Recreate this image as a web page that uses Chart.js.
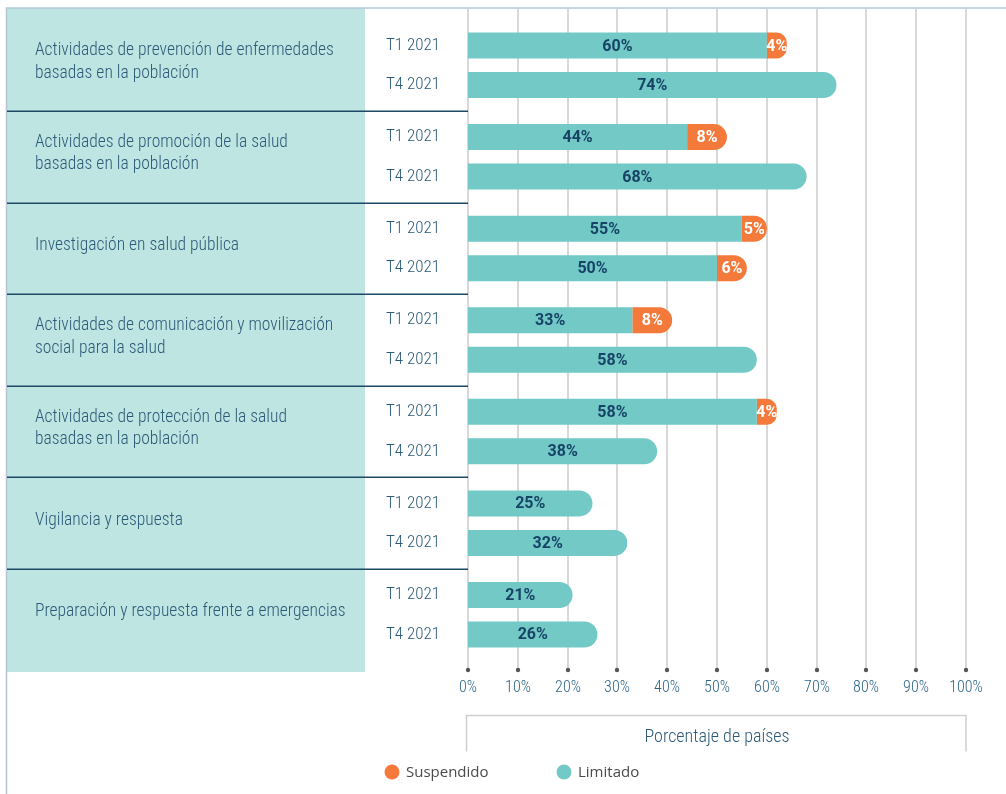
<!DOCTYPE html>
<html lang="es">
<head>
<meta charset="utf-8">
<title>Servicios de salud pública</title>
<script src="https://cdn.jsdelivr.net/npm/chart.js@4.4.0/dist/chart.umd.min.js"></script>
<style>
  html, body { margin: 0; padding: 0; background: #fff; }
  canvas { display: block; }
</style>
</head>
<body>
<canvas id="grafico" width="1006" height="794"></canvas>
<script>
// Datos
const categorias = [
  ['Actividades de prevención de enfermedades', 'basadas en la población'],
  ['Actividades de promoción de la salud', 'basadas en la población'],
  ['Investigación en salud pública'],
  ['Actividades de comunicación y movilización', 'social para la salud'],
  ['Actividades de protección de la salud', 'basadas en la población'],
  ['Vigilancia y respuesta'],
  ['Preparación y respuesta frente a emergencias']
];
const periodos = ['T1 2021', 'T4 2021'];
const limitadoT1 = [60, 44, 55, 33, 58, 25, 21];
const suspendidoT1 = [4, 8, 5, 8, 4, 0, 0];
const limitadoT4 = [74, 68, 50, 58, 38, 32, 26];
const suspendidoT4 = [0, 0, 6, 0, 0, 0, 0];
const ticksX = [0, 10, 20, 30, 40, 50, 60, 70, 80, 90, 100];
const tituloX = 'Porcentaje de países';
const series = ['Suspendido', 'Limitado'];

// Estilos
const TEAL = '#72c9c6';
const NARANJA = '#f47a3b';
const PANEL = '#bfe5e2';
const AZUL_TEXTO = '#2b5a78';
const AZUL_ETIQUETA = '#174466';
const AZUL_LINEA = '#1d4866';
const GRIS_GRILLA = '#d8d8d8';
const CONDENSADA = '"Roboto Condensed", "Liberation Sans Narrow", sans-serif';

// radio sólo en el último tramo de cada barra apilada
function radioLimitado(suspendido) {
  return ctx => (suspendido[ctx.dataIndex] > 0 ? 0 : 13);
}

const decorado = {
  id: 'decorado',
  beforeDatasetsDraw(chart) {
    const { ctx, scales: { x, y } } = chart;
    const paso = y.getPixelForValue(1) - y.getPixelForValue(0);
    const arriba = y.top - 11.5;
    const abajo = y.bottom + 11.5;
    ctx.save();

    // panel de categorías
    ctx.fillStyle = PANEL;
    ctx.fillRect(7, arriba, 358, abajo - arriba);

    // marco exterior
    ctx.strokeStyle = '#b3c6d7';
    ctx.lineWidth = 1.5;
    ctx.beginPath();
    ctx.moveTo(6.5, chart.height);
    ctx.lineTo(6.5, arriba);
    ctx.lineTo(chart.width, arriba);
    ctx.stroke();

    // líneas verticales de la grilla
    ctx.strokeStyle = GRIS_GRILLA;
    ctx.lineWidth = 2;
    x.ticks.forEach(t => {
      const px = Math.round(x.getPixelForValue(t.value));
      ctx.beginPath();
      ctx.moveTo(px, arriba + 1);
      ctx.lineTo(px, y.bottom + 9.5);
      ctx.stroke();
    });

    // separadores entre categorías
    ctx.strokeStyle = AZUL_LINEA;
    ctx.lineWidth = 1.5;
    for (let i = 1; i < categorias.length; i++) {
      const py = Math.round(y.getPixelForValue(i) - paso / 2) + 0.25;
      ctx.beginPath();
      ctx.moveTo(7, py);
      ctx.lineTo(x.left, py);
      ctx.stroke();
    }
    ctx.restore();
  },
  afterDatasetsDraw(chart) {
    const { ctx } = chart;
    ctx.save();
    ctx.font = 'bold 16px Roboto, sans-serif';
    ctx.textAlign = 'center';
    ctx.textBaseline = 'middle';
    chart.data.datasets.forEach((ds, di) => {
      const meta = chart.getDatasetMeta(di);
      meta.data.forEach((bar, i) => {
        const v = ds.data[i];
        if (!v) return;
        const { x: fin, base, y: cy } = bar.getProps(['x', 'base', 'y'], true);
        ctx.fillStyle = ds.label === 'Suspendido' ? '#ffffff' : AZUL_ETIQUETA;
        ctx.fillText(v + '%', (fin + base) / 2, cy + 1);
      });
    });
    ctx.restore();
  },
  afterDraw(chart) {
    const { ctx, scales: { x, y } } = chart;
    ctx.save();
    ctx.textBaseline = 'middle';

    // nombres de categoría
    ctx.fillStyle = AZUL_TEXTO;
    ctx.font = '300 17.5px ' + CONDENSADA;
    ctx.textAlign = 'left';
    categorias.forEach((lineas, i) => {
      const cy = y.getPixelForValue(i) - 3;
      const alto = 22.5;
      lineas.forEach((txt, j) => {
        ctx.fillText(txt, 35, cy + (j - (lineas.length - 1) / 2) * alto);
      });
    });

    // periodos junto a cada barra
    ctx.textAlign = 'center';
    ctx.font = '300 17px ' + CONDENSADA;
    [0, 2].forEach((di, p) => {
      chart.getDatasetMeta(di).data.forEach(bar => {
        ctx.fillText(periodos[p], 413, bar.y);
      });
    });

    // marcas y etiquetas del eje x
    const yTick = y.bottom + 9.5;
    ctx.font = '300 16px ' + CONDENSADA;
    ctx.fillStyle = '#2e6589';
    x.ticks.forEach(t => {
      const px = Math.round(x.getPixelForValue(t.value));
      ctx.fillText(t.value + '%', px, yTick + 18);
    });
    ctx.fillStyle = '#555';
    x.ticks.forEach(t => {
      const px = Math.round(x.getPixelForValue(t.value));
      ctx.beginPath();
      ctx.arc(px, yTick, 2.2, 0, Math.PI * 2);
      ctx.fill();
    });

    // recuadro del título del eje
    const cajaTop = yTick + 45.5;
    ctx.strokeStyle = '#cfcfcf';
    ctx.lineWidth = 1.5;
    ctx.beginPath();
    ctx.moveTo(x.left - 1.5, cajaTop + 36);
    ctx.lineTo(x.left - 1.5, cajaTop);
    ctx.lineTo(x.right, cajaTop);
    ctx.lineTo(x.right, cajaTop + 36);
    ctx.stroke();
    ctx.fillStyle = AZUL_TEXTO;
    ctx.font = '300 18px ' + CONDENSADA;
    ctx.fillText(tituloX, (x.left + x.right) / 2, cajaTop + 22);

    // leyenda
    const colores = { Suspendido: NARANJA, Limitado: TEAL };
    const posX = [392, 564];
    const ly = 772;
    ctx.textAlign = 'left';
    ctx.font = '15px "Open Sans", sans-serif';
    series.forEach((s, i) => {
      ctx.fillStyle = colores[s];
      ctx.beginPath();
      ctx.arc(posX[i], ly, 7.5, 0, Math.PI * 2);
      ctx.fill();
      ctx.fillStyle = '#4a4a4a';
      ctx.fillText(s, posX[i] + 14, ly + 1);
    });
    ctx.restore();
  }
};

const comun = { categoryPercentage: 0.863, barPercentage: 0.658, borderWidth: 0, borderSkipped: 'start' };

new Chart(document.getElementById('grafico'), {
  type: 'bar',
  data: {
    labels: categorias,
    datasets: [
      { ...comun, label: 'Limitado', stack: 'T1', data: limitadoT1, backgroundColor: TEAL, borderRadius: radioLimitado(suspendidoT1) },
      { ...comun, label: 'Suspendido', stack: 'T1', data: suspendidoT1, backgroundColor: NARANJA, borderRadius: 13 },
      { ...comun, label: 'Limitado', stack: 'T4', data: limitadoT4, backgroundColor: TEAL, borderRadius: radioLimitado(suspendidoT4) },
      { ...comun, label: 'Suspendido', stack: 'T4', data: suspendidoT4, backgroundColor: NARANJA, borderRadius: 13 }
    ]
  },
  options: {
    indexAxis: 'y',
    responsive: false,
    animation: false,
    layout: { padding: { left: 468, right: 40, top: 19.5, bottom: 133.5 } },
    plugins: { legend: { display: false }, tooltip: { enabled: false } },
    scales: {
      x: {
        stacked: true, display: false, min: 0, max: 100,
        afterBuildTicks: s => { s.ticks = ticksX.map(v => ({ value: v })); }
      },
      y: { stacked: true, display: false }
    }
  },
  plugins: [decorado]
});
</script>
</body>
</html>
